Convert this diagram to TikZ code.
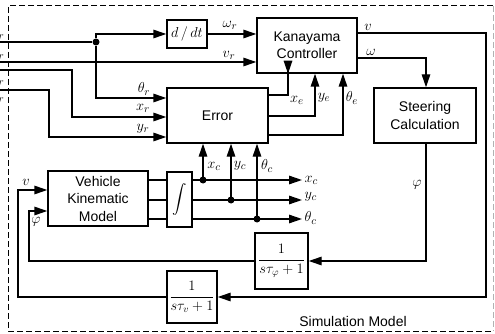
\documentclass[tikz,border=0pt]{standalone}
\usepackage{fontspec}
\setmainfont{Liberation Sans}
\usepackage{amsmath}
\usetikzlibrary{arrows.meta,calc}
\begin{document}
\begin{tikzpicture}[x=1pt,y=-1pt,
  line width=1.4pt,
  >={Triangle[length=13pt,width=8.5pt]},
  blk/.style={draw,line width=1.4pt,inner sep=0pt,align=center,
    font=\fontsize{14}{17.5}\selectfont},
  lbl/.style={inner sep=0pt,font=\fontsize{15}{17}\selectfont},
  dot/.style={circle,fill,inner sep=0pt,minimum size=7pt},
  frame/.style={line width=1pt,dash pattern=on 6pt off 3pt}]
\clip (0,0) rectangle (495,334);
% frame
\draw[frame] (493,6) -- (8,6) -- (8,331) -- (493,331);
\draw[frame,gray!60] (493,6) -- (493,331);
% blocks
\node[blk,minimum width=40pt,minimum height=28pt] (ddt) at (187,34) {\fontsize{15}{17}\selectfont$d\,/\,dt$};
\node[blk,minimum width=100pt,minimum height=55pt] (kan) at (307,45.5) {Kanayama\\Controller};
\node[blk,minimum width=101pt,minimum height=55pt] (err) at (217.5,115.5) {Error};
\node[blk,minimum width=102pt,minimum height=55pt] (steer) at (425,115.5) {Steering\\Calculation};
\node[blk,minimum width=100pt,minimum height=55pt] (vkm) at (98,198.5) {Vehicle\\Kinematic\\Model};
\node[blk,minimum width=25pt,minimum height=55pt] (integ) at (179.5,199.5) {$\displaystyle\int$};
\node[blk,minimum width=53pt,minimum height=56pt] (tphi) at (281.5,261) {$\dfrac{1}{s\tau_{\varphi}+1}$};
\node[blk,minimum width=50pt,minimum height=52pt] (tv) at (192,297) {$\dfrac{1}{s\tau_{v}+1}$};
% input coordinates
\coordinate (ith) at (-2,42);
\coordinate (iv) at (-2,62);
\coordinate (ix) at (-2,70);
\coordinate (iy) at (-2,90);
\node[dot] (d1) at (96,42) {};
% input labels (cut by edge, as in the original)
\node[lbl,anchor=east] at (5,33) {$\theta_r$};
\node[lbl,anchor=east] at (5,55) {$v_r$};
\node[lbl,anchor=east] at (5,81) {$x_r$};
\node[lbl,anchor=east] at (5,99) {$y_r$};
% inputs
\draw (ith) -- (d1);
\draw[->] (d1) |- (ddt.west);
\draw[->] (d1) |- ($(err.west)+(0,-17.5)$);
\draw[->] (iv) -- (iv -| kan.west);
\draw[->] (ix) -| (72,117) -- ($(err.west)+(0,1.5)$);
\draw[->] (iy) -| (49,137) -- ($(err.west)+(0,21.5)$);
\draw[->] (ddt.east) -- (ddt.east -| kan.west);
\node[lbl] at (230,25) {$\omega_r$};
\node[lbl] at (229,55) {$v_r$};
\node[lbl] at (144,89) {$\theta_r$};
\node[lbl] at (143,108) {$x_r$};
\node[lbl] at (143,129) {$y_r$};
% error outputs
\draw[->] ($(err.east)+(0,-20.5)$) -| (288,73) -- (288,73 |- kan.south);
\draw[->] ($(err.east)+(0,0.5)$) -| (315,73 |- kan.south);
\draw[->] ($(err.east)+(0,19.5)$) -| (343,73 |- kan.south);
\node[lbl] at (297,100) {$x_e$};
\node[lbl] at (324,98) {$y_e$};
\node[lbl] at (352,98) {$\theta_e$};
% controller outputs
\coordinate (vturn) at (486,33);
\draw[->] ($(kan.east)+(0,-12.5)$) -- (vturn) |- (tv.east);
\draw[->] ($(kan.east)+(0,12.5)$) -| (steer.north -| 426,0);
\node[lbl] at (368,27) {$v$};
\node[lbl] at (371,52) {$\omega$};
% steering output
\draw[->] (steer.south -| 426,0) |- (tphi.east);
\node[lbl] at (417,185) {$\varphi$};
% feedbacks
\draw[->] (tphi.west) -| (29,211) -- (29,211 -| vkm.west);
\draw[->] (tv.west) -| (18,190) -- (18,190 -| vkm.west);
\node[lbl] at (26,182) {$v$};
\node[lbl] at (36,222) {$\varphi$};
% vkm to integrator
\draw (vkm.east |- 0,180) -- (integ.west |- 0,180);
\draw (vkm.east |- 0,200) -- (integ.west |- 0,200);
\draw (vkm.east |- 0,219) -- (integ.west |- 0,219);
% integrator outputs
\coordinate (ox) at (302,180);
\coordinate (oy) at (302,200);
\coordinate (ot) at (302,219);
\draw[->] (integ.east |- ox) -- (ox);
\draw[->] (integ.east |- oy) -- (oy);
\draw[->] (integ.east |- ot) -- (ot);
\node[dot] (dx) at (203,180) {};
\node[dot] (dy) at (231,200) {};
\node[dot] (dt) at (257,219) {};
\draw[->] (dx.center) -- (dx |- err.south);
\draw[->] (dy.center) -- (dy |- err.south);
\draw[->] (dt.center) -- (dt |- err.south);
\node[lbl] at (214,166) {$x_c$};
\node[lbl] at (240,166) {$y_c$};
\node[lbl] at (267,166) {$\theta_c$};
\node[lbl,anchor=west] at (304,180) {$x_c$};
\node[lbl,anchor=west] at (304,197) {$y_c$};
\node[lbl,anchor=west] at (304,218) {$\theta_c$};
% caption
\node[inner sep=0pt,font=\fontsize{14}{16}\selectfont] at (353,321) {Simulation Model};
\end{tikzpicture}
\end{document}
